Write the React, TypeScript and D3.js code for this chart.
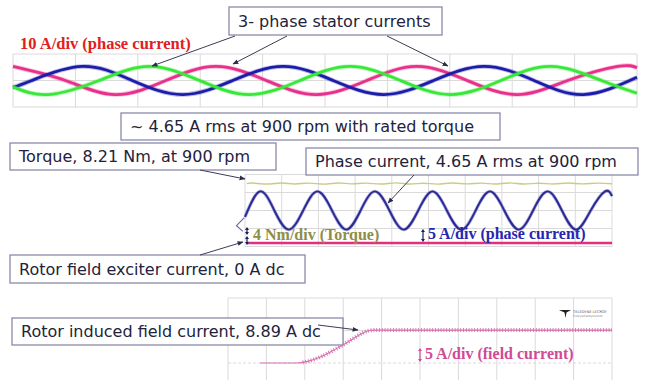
import React from 'react';
import * as d3 from 'd3';

// ---- top scope: 3-phase stator currents (time in ms, current in A) ----
const PINK_PHASE: [number, number][] = [
  [0, 5.3], [8.4, 0], [16.4, -5.3], [24.5, 0], [32.5, 5.3], [40.6, 0], [48.6, -5.3],
  [56.7, 0], [64.7, 5.3], [72.8, 0], [80.8, -5.3], [88.9, 0], [96.9, 5.3], [100, 4.8],
];
const BLUE_PHASE: [number, number][] = [
  [0, -2.6], [3.0, 0], [11.1, 5.3], [19.1, 0], [27.2, -5.3], [35.2, 0], [43.3, 5.3],
  [51.3, 0], [59.4, -5.3], [67.4, 0], [75.5, 5.3], [83.5, 0], [91.4, -5.3], [100, 1.2],
];
const GREEN_PHASE: [number, number][] = [
  [0, -2.4], [5.7, -5.3], [13.8, 0], [21.8, 5.3], [29.9, 0], [37.9, -5.3], [46.0, 0],
  [54.0, 5.3], [62.1, 0], [70.1, -5.3], [78.2, 0], [86.2, 5.3], [94.3, 0], [100, -4.8],
];

// ---- middle scope: torque (Nm), phase current (A), exciter current (A) ----
const TORQUE: [number, number][] = [
  [1, 8.2], [4, 8.32], [12, 8.1], [20, 8.34], [27, 8.12], [35, 8.3], [43, 8.08], [51, 8.33],
  [58, 8.15], [66, 8.31], [74, 8.1], [82, 8.36], [90, 8.12], [97, 8.28], [105, 8.09],
  [113, 8.33], [121, 8.14], [129, 8.3], [136, 8.1], [144, 8.35], [152, 8.12], [160, 8.29],
  [168, 8.1], [176, 8.32], [184, 8.13], [192, 8.3], [200, 8.18],
];
const PHASE_CURRENT: [number, number][] = [
  [0, -1.8], [8.2, 5.3], [16.0, 0], [23.9, -5.3], [31.7, 0], [39.5, 5.3], [47.4, 0],
  [55.2, -5.3], [63.0, 0], [70.8, 5.3], [78.7, 0], [86.5, -5.3], [94.4, 0], [102.2, 5.3],
  [110.0, 0], [117.9, -5.3], [125.7, 0], [133.5, 5.3], [141.3, 0], [149.2, -5.3],
  [157.0, 0], [164.9, 5.3], [172.7, 0], [180.5, -5.3], [188.4, 0], [196.2, 5.3], [200, 4.0],
];
const TRACE_START: [number, number][] = [[-0.4, -2.0], [-4.6, -4.2], [-1.2, -5.8]];
const EXCITER: [number, number][] = [[1, 0], [200, 0]];

// ---- bottom scope: rotor induced field current (A) ----
const FIELD_CURRENT: [number, number][] = [
  [16.7, 0], [36, 0], [42, 0.5], [48, 1.6], [54, 3.2], [60, 4.9], [65, 6.5], [69, 7.8],
  [73, 8.7], [76, 8.89], [200, 8.89],
];
const RIPPLE_FROM = 38;

const TOP_TICKS = d3.range(0, 101, 10);
const MID_TICKS = d3.range(0, 201, 20);
const MID_ROWS = [-10, -5, 0, 5, 10];
const BOT_ROWS = [0, 1, 2];

const BOX_FONT = 'DejaVu Sans';
const LABEL_FONT = '"Liberation Serif", "Times New Roman", serif';

function Box({ x, y, w, h, text }: { x: number; y: number; w: number; h: number; text: string }) {
  return (
    <g>
      <rect x={x} y={y} width={w} height={h} fill="#fff" stroke="#8a8aaa" strokeWidth={1.3} />
      <text x={x + 9} y={y + h / 2 + 5.5} fontFamily={BOX_FONT} fontSize={16} fill="#22223c">
        {text}
      </text>
    </g>
  );
}

function Pointer({ x1, y1, x2, y2 }: { x1: number; y1: number; x2: number; y2: number }) {
  return <line x1={x1} y1={y1} x2={x2} y2={y2} stroke="#3d3d55" strokeWidth={1} markerEnd="url(#ah)" />;
}

function DivArrow({ x, y1, y2, color }: { x: number; y1: number; y2: number; color: string }) {
  return (
    <g fill={color}>
      <line x1={x} x2={x} y1={y1 + 2} y2={y2 - 2} stroke={color} strokeWidth={1.2} />
      <path d={`M${x - 2},${y1 + 3}L${x},${y1}L${x + 2},${y1 + 3}Z`} />
      <path d={`M${x - 2},${y2 - 3}L${x},${y2}L${x + 2},${y2 - 3}Z`} />
    </g>
  );
}

export default function App() {
  // top scope
  const xTop = d3.scaleLinear().domain([0, 100]).range([13, 637]);
  const yTop = d3.scaleLinear().domain([-10, 10]).range([107, 54]);
  const lineTop = d3
    .line<[number, number]>()
    .x((d) => xTop(d[0]))
    .y((d) => yTop(d[1]))
    .curve(d3.curveNatural);

  // middle scope
  const xMid = d3.scaleLinear().domain([0, 200]).range([245, 612]);
  const yMid = d3.scaleLinear().domain([-10, 10]).range([246.5, 174.5]);
  const yTorque = d3.scaleLinear().domain([0, 8]).range([220.5, 184.5]);
  const yExc = d3.scaleLinear().domain([0, 5]).range([243, 225]);
  const lineMid = d3
    .line<[number, number]>()
    .x((d) => xMid(d[0]))
    .y((d) => yMid(d[1]))
    .curve(d3.curveNatural);
  const lineTorque = d3
    .line<[number, number]>()
    .x((d) => xMid(d[0]))
    .y((d) => yTorque(d[1]))
    .curve(d3.curveCardinal);
  const lineExc = d3
    .line<[number, number]>()
    .x((d) => xMid(d[0]))
    .y((d) => yExc(d[1]));
  const lineStart = d3
    .line<[number, number]>()
    .x((d) => xMid(d[0]))
    .y((d) => yMid(d[1]));

  // bottom scope
  const xBot = d3.scaleLinear().domain([0, 200]).range([228, 612]);
  const yBotGrid = d3.scaleLinear().domain([0, 2]).range([363, 298]);
  const yField = d3.scaleLinear().domain([0, 10]).range([363, 326]);
  const lineField = d3
    .line<[number, number]>()
    .x((d) => xBot(d[0]))
    .y((d) => yField(d[1]))
    .curve(d3.curveMonotoneX);
  const ripplePart = FIELD_CURRENT.filter((d) => d[0] >= RIPPLE_FROM - 4);

  const grid = '#dadada';

  return (
    <svg
      width={645}
      height={380}
      viewBox="0 0 645 380"
      style={{ position: 'fixed', left: 0, top: 0, background: '#fff' }}
    >
      <defs>
        <marker id="ah" viewBox="0 0 10 10" refX={9} refY={5} markerWidth={6} markerHeight={6} orient="auto">
          <path d="M0,1L10,5L0,9Z" fill="#2c2c44" />
        </marker>
        <clipPath id="ripclip">
          <rect x={xBot(RIPPLE_FROM)} y={290} width={400} height={90} />
        </clipPath>
      </defs>

      {/* top scope grid */}
      <g stroke={grid} strokeWidth={1}>
        {TOP_TICKS.map((t) => (
          <line key={t} x1={xTop(t)} x2={xTop(t)} y1={yTop(10)} y2={yTop(-10)} />
        ))}
        {[-10, 0, 10].map((v) => (
          <line key={v} x1={xTop(0)} x2={xTop(100)} y1={yTop(v)} y2={yTop(v)} />
        ))}
      </g>

      {/* three phase currents */}
      {[
        { d: PINK_PHASE, c: '#e8308a' },
        { d: BLUE_PHASE, c: '#1c1caa' },
        { d: GREEN_PHASE, c: '#38e838' },
      ].map((s) => (
        <g key={s.c} fill="none">
          <path d={lineTop(s.d) ?? ''} stroke={s.c} strokeWidth={4.6} opacity={0.3} />
          <path d={lineTop(s.d) ?? ''} stroke={s.c} strokeWidth={2.8} />
        </g>
      ))}

      <text x={20} y={49} fontFamily={LABEL_FONT} fontWeight="bold" fontSize={16.5} fill="#e02020">
        10 A/div (phase current)
      </text>

      {/* middle scope grid */}
      <g stroke={grid} strokeWidth={1}>
        {MID_TICKS.map((t) => (
          <line key={t} x1={xMid(t)} x2={xMid(t)} y1={yMid(10)} y2={yMid(-10)} />
        ))}
        {MID_ROWS.map((v) => (
          <line key={v} x1={xMid(0)} x2={xMid(200)} y1={yMid(v)} y2={yMid(v)} />
        ))}
      </g>
      <path d={lineTorque(TORQUE) ?? ''} fill="none" stroke="#cccc80" strokeWidth={1.4} />
      <path d={lineMid(PHASE_CURRENT) ?? ''} fill="none" stroke="#7070c8" strokeWidth={3.4} opacity={0.55} />
      <path d={lineMid(PHASE_CURRENT) ?? ''} fill="none" stroke="#2a2a92" strokeWidth={1.9} />
      <path d={lineStart(TRACE_START) ?? ''} fill="none" stroke="#6a6aa0" strokeWidth={1.2} />
      <path d={lineExc(EXCITER) ?? ''} fill="none" stroke="#e2307e" strokeWidth={2.6} />
      <DivArrow x={247} y1={227} y2={235} color="#1a1a5a" />
      <DivArrow x={247} y1={236} y2={245} color="#1a1a5a" />
      <DivArrow x={423} y1={229} y2={242} color="#1a1a5a" />
      <text x={253} y={240} fontFamily={LABEL_FONT} fontWeight="bold" fontSize={16} fill="#8e8e4a">
        4 Nm/div (Torque)
      </text>
      <text x={428} y={239} fontFamily={LABEL_FONT} fontWeight="bold" fontSize={16} fill="#2626b0">
        5 A/div (phase current)
      </text>

      {/* bottom scope grid */}
      <g stroke={grid} strokeWidth={1}>
        {MID_TICKS.map((t) => (
          <line key={t} x1={xBot(t)} x2={xBot(t)} y1={yBotGrid(2)} y2={380} />
        ))}
        {BOT_ROWS.map((v) => (
          <line
            key={v}
            x1={xBot(0)}
            x2={xBot(200)}
            y1={yBotGrid(v)}
            y2={yBotGrid(v)}
            strokeDasharray={v === 0 ? '3 2' : undefined}
          />
        ))}
      </g>
      <path d={lineField(FIELD_CURRENT) ?? ''} fill="none" stroke="#d870b0" strokeWidth={1.1} />
      <path
        d={lineField(ripplePart) ?? ''}
        fill="none"
        stroke="#d870b0"
        strokeWidth={4}
        strokeDasharray="0.9 1.9"
        clipPath="url(#ripclip)"
      />
      <DivArrow x={420} y1={348} y2={362} color="#d04a94" />
      <text x={425} y={359} fontFamily={LABEL_FONT} fontWeight="bold" fontSize={16} fill="#d04a94">
        5 A/div (field current)
      </text>
      {/* scope maker logo */}
      <g transform="translate(559,310)">
        <path d="M0,0L12,0L7.5,2.5L6.5,8L5.5,2.5Z" fill="#222" />
        <text x={14} y={3} fontFamily="DejaVu Sans" fontSize={3.6} fill="#555">TELEDYNE LECROY</text>
        <text x={14} y={7} fontFamily="DejaVu Sans" fontSize={3} fill="#888">Everywhereyoulook</text>
      </g>

      {/* annotation boxes and pointers */}
      <Box x={229} y={7} w={213} h={28} text="3- phase stator currents" />
      <Pointer x1={235} y1={36} x2={152} y2={66} />
      <Pointer x1={287} y1={36} x2={233} y2={64} />
      <Pointer x1={387} y1={36} x2={448} y2={66} />

      <Box x={121} y={113} w={379} h={27} text="~ 4.65 A rms at 900 rpm with rated torque" />
      <Box x={10} y={143} w={266} h={27} text="Torque, 8.21 Nm, at 900 rpm" />
      <Pointer x1={200} y1={170} x2={245} y2={179} />
      <Box x={306} y={148} w={332} h={27} text="Phase current, 4.65 A rms at 900 rpm" />
      <Pointer x1={414} y1={175} x2={388} y2={203} />

      <Box x={10} y={255} w={295} h={28} text="Rotor field exciter current, 0 A dc" />
      <Pointer x1={200} y1={255} x2={243} y2={242} />

      <Box x={12} y={318} w={331} h={27} text="Rotor induced field current, 8.89 A dc" />
      <Pointer x1={318} y1={325} x2={358} y2={330} />
    </svg>
  );
}
